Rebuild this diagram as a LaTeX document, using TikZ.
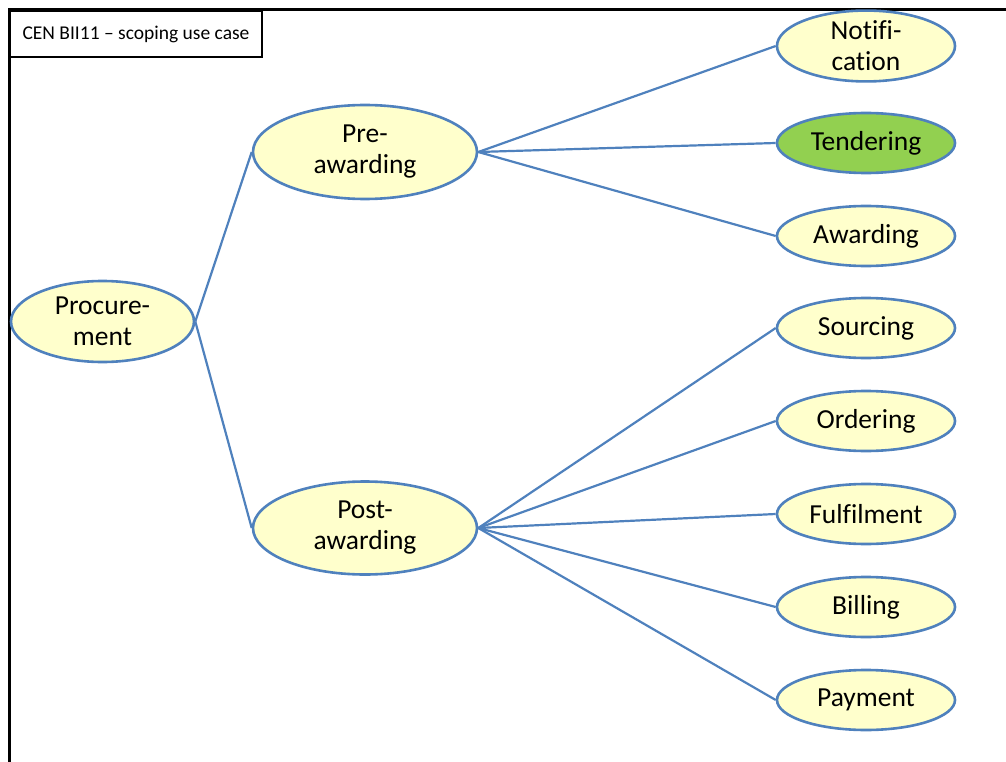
\documentclass[tikz,border=0pt]{standalone}
\usepackage{fontspec}
\setmainfont{Carlito}[Ligatures=NoCommon]
\usetikzlibrary{shapes.geometric}
\definecolor{edgeblue}{HTML}{4F81BD}
\definecolor{paleyellow}{HTML}{FFFFCC}
\definecolor{tendgreen}{HTML}{92D050}
\begin{document}
\begin{tikzpicture}[x=1pt,y=-1pt,
  bubble/.style={ellipse,draw=edgeblue,line width=2.6pt,fill=paleyellow,inner sep=0pt,
    font=\fontsize{27.5}{31}\selectfont,align=center},
  link/.style={draw=edgeblue,line width=2.2pt}]
\useasboundingbox (0,0) rectangle (1006,762);
\draw[line width=3pt] (1006,10) -- (9,10) -- (9,762);
\node[draw,line width=2pt,minimum width=252pt,minimum height=46pt,anchor=north west,inner sep=0pt,
  font=\fontsize{19.5}{23}\selectfont] (title) at (9,10) {CEN BII11 -- scoping use case};
\node[bubble,minimum width=183pt,minimum height=81pt] (proc) at (102.5,321.5) {Procure-\\ment};
\node[bubble,minimum width=224pt,minimum height=94pt] (pre) at (365,152) {Pre-\\awarding};
\node[bubble,minimum width=224pt,minimum height=93pt] (post) at (365,528) {Post-\\awarding};
\node[bubble,minimum width=178pt,minimum height=66pt] (notif) at (866,46) {Notifi-\\cation};
\node[bubble,fill=tendgreen,minimum width=178pt,minimum height=60pt] (tend) at (866,143) {Tendering};
\node[bubble,minimum width=178pt,minimum height=60pt] (award) at (866,236) {Awarding};
\node[bubble,minimum width=178pt,minimum height=60pt] (sourc) at (866,328) {Sourcing};
\node[bubble,minimum width=178pt,minimum height=60pt] (order) at (866,421) {Ordering};
\node[bubble,minimum width=178pt,minimum height=60pt] (fulf) at (866,514) {Fulfilment};
\node[bubble,minimum width=178pt,minimum height=60pt] (bill) at (866,607) {Billing};
\node[bubble,minimum width=178pt,minimum height=60pt] (pay) at (866,700) {Payment};
\draw[link] (proc.east) -- (pre.west);
\draw[link] (proc.east) -- (post.west);
\draw[link] (pre.east) -- (notif.west);
\draw[link] (pre.east) -- (tend.west);
\draw[link] (pre.east) -- (award.west);
\draw[link] (post.east) -- (sourc.west);
\draw[link] (post.east) -- (order.west);
\draw[link] (post.east) -- (fulf.west);
\draw[link] (post.east) -- (bill.west);
\draw[link] (post.east) -- (pay.west);
\end{tikzpicture}
\end{document}
